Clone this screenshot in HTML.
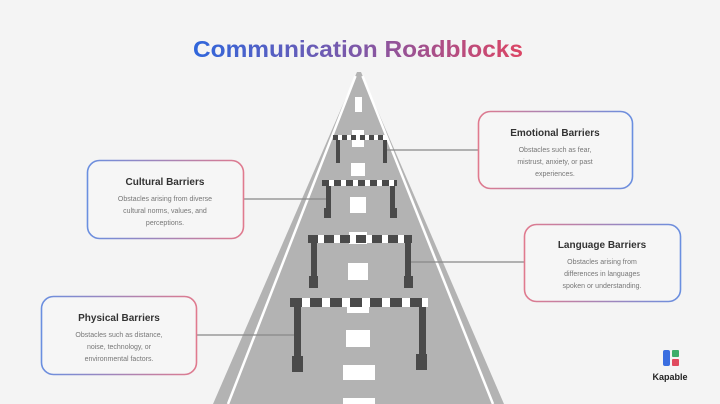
<!DOCTYPE html>
<html><head><meta charset="utf-8"><style>
html,body{margin:0;padding:0;background:#f4f4f4;}
svg{display:block;font-family:"Liberation Sans",sans-serif;}
</style></head><body>
<svg width="720" height="404" viewBox="0 0 720 404" xmlns="http://www.w3.org/2000/svg">
<defs>
<linearGradient id="tg" x1="0" x2="1"><stop offset="0" stop-color="#2f66dc"/><stop offset="0.5" stop-color="#7e58a8"/><stop offset="1" stop-color="#dc4564"/></linearGradient>
<linearGradient id="bp" x1="0" x2="1"><stop offset="0" stop-color="#6a8fe0"/><stop offset="1" stop-color="#e07a8e"/></linearGradient>
<linearGradient id="pb" x1="0" x2="1"><stop offset="0" stop-color="#e07a8e"/><stop offset="1" stop-color="#6a8fe0"/></linearGradient>
</defs>
<rect width="720" height="404" fill="#f4f4f4"/>
<text x="193" y="57" font-size="23" font-weight="bold" fill="url(#tg)" textLength="330" lengthAdjust="spacingAndGlyphs">Communication Roadblocks</text>

<!-- road -->
<polygon points="357,72 213,404 504,404 361,72" fill="#b3b3b3"/>
<line x1="355.5" y1="76" x2="228" y2="404" stroke="#fff" stroke-width="2.5"/>
<line x1="362.5" y1="76" x2="493" y2="404" stroke="#fff" stroke-width="2.5"/>
<g fill="#fff">
<rect x="355" y="97" width="7" height="15"/>
<rect x="352" y="130" width="12" height="17"/>
<rect x="351" y="163" width="14" height="13"/>
<rect x="350" y="197" width="16" height="16"/>
<rect x="349" y="232" width="18" height="12"/>
<rect x="348" y="263" width="20" height="17"/>
<rect x="347" y="298" width="22" height="15"/>
<rect x="346" y="330" width="24" height="17"/>
<rect x="343" y="365" width="32" height="15"/>
<rect x="343" y="398" width="32" height="6"/>
</g>

<!-- connectors -->
<g stroke="#888" stroke-width="1.2">
<line x1="385" y1="150" x2="478" y2="150"/>
<line x1="243" y1="199" x2="326" y2="199"/>
<line x1="410" y1="262" x2="524" y2="262"/>
<line x1="196" y1="335" x2="294" y2="335"/>
</g>

<!-- hurdles -->
<g fill="#4a4a4a">
<rect x="336" y="137" width="4" height="26"/><rect x="383" y="137" width="4" height="26"/>
<rect x="333" y="135" width="54" height="5" fill="#fff"/>
<line x1="333" y1="137.5" x2="387" y2="137.5" stroke="#4a4a4a" stroke-width="5" stroke-dasharray="5 4"/>
<rect x="326" y="182" width="5" height="30"/><rect x="324" y="208" width="7" height="10"/>
<rect x="390" y="182" width="5" height="30"/><rect x="390" y="208" width="7" height="10"/>
<rect x="322" y="180" width="75" height="6" fill="#fff"/>
<line x1="322" y1="183" x2="397" y2="183" stroke="#4a4a4a" stroke-width="6" stroke-dasharray="7 5"/>
<rect x="311" y="238" width="6" height="40"/><rect x="309" y="276" width="9" height="12"/>
<rect x="405" y="238" width="6" height="40"/><rect x="404" y="276" width="9" height="12"/>
<rect x="308" y="235" width="104" height="8" fill="#fff"/>
<line x1="308" y1="239" x2="412" y2="239" stroke="#4a4a4a" stroke-width="8" stroke-dasharray="10 6"/>
<rect x="294" y="302" width="7" height="58"/><rect x="292" y="356" width="11" height="16"/>
<rect x="419" y="302" width="7" height="58"/><rect x="416" y="354" width="11" height="16"/>
<rect x="290" y="298" width="138" height="9" fill="#fff"/>
<line x1="290" y1="302.5" x2="428" y2="302.5" stroke="#4a4a4a" stroke-width="9" stroke-dasharray="12 8"/>
</g>

<!-- boxes -->
<rect x="478.5" y="111.5" width="154" height="77" rx="12" fill="#f6f6f6" stroke="url(#pb)" stroke-width="1.6"/>
<text x="555" y="136" text-anchor="middle" font-size="10" font-weight="bold" fill="#333">Emotional Barriers</text>
<g font-size="7" fill="#777" text-anchor="middle">
<text x="555" y="152">Obstacles such as fear,</text>
<text x="555" y="164">mistrust, anxiety, or past</text>
<text x="555" y="176">experiences.</text>
</g>

<rect x="87.5" y="160.5" width="156" height="78" rx="12" fill="#f6f6f6" stroke="url(#bp)" stroke-width="1.6"/>
<text x="165" y="185" text-anchor="middle" font-size="10" font-weight="bold" fill="#333">Cultural Barriers</text>
<g font-size="7" fill="#777" text-anchor="middle">
<text x="165" y="201">Obstacles arising from diverse</text>
<text x="165" y="213">cultural norms, values, and</text>
<text x="165" y="225">perceptions.</text>
</g>

<rect x="524.5" y="224.5" width="156" height="77" rx="12" fill="#f6f6f6" stroke="url(#pb)" stroke-width="1.6"/>
<text x="602" y="248" text-anchor="middle" font-size="10" font-weight="bold" fill="#333">Language Barriers</text>
<g font-size="7" fill="#777" text-anchor="middle">
<text x="602" y="264">Obstacles arising from</text>
<text x="602" y="276">differences in languages</text>
<text x="602" y="288">spoken or understanding.</text>
</g>

<rect x="41.5" y="296.5" width="155" height="78" rx="12" fill="#f6f6f6" stroke="url(#bp)" stroke-width="1.6"/>
<text x="119" y="321" text-anchor="middle" font-size="10" font-weight="bold" fill="#333">Physical Barriers</text>
<g font-size="7" fill="#777" text-anchor="middle">
<text x="119" y="337">Obstacles such as distance,</text>
<text x="119" y="349">noise, technology, or</text>
<text x="119" y="361">environmental factors.</text>
</g>

<!-- logo -->
<rect x="663" y="350" width="7" height="16" rx="2" fill="#3a6ee0"/>
<rect x="672" y="350" width="7" height="7" rx="1" fill="#3cae6a"/>
<rect x="672" y="359" width="7" height="7" rx="1" fill="#e04a5e"/>
<text x="670" y="380" text-anchor="middle" font-size="9" font-weight="bold" fill="#222">Kapable</text>
</svg>
</body></html>
